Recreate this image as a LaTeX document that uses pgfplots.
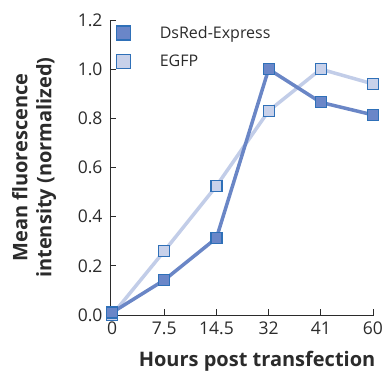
\documentclass[border=0pt]{standalone}
\usepackage{pgfplots}
\pgfplotsset{compat=1.18}
\usepackage{fontspec}
\setmainfont{Open Sans}
\definecolor{dsfill}{HTML}{6A86C8}
\definecolor{dsline}{HTML}{6A86C6}
\definecolor{egfill}{HTML}{C8D1EA}
\definecolor{egline}{HTML}{C2CDE8}
\definecolor{edge}{HTML}{2F70B8}
\definecolor{txt}{HTML}{2B2B2B}
\begin{document}
\begin{tikzpicture}
\useasboundingbox (-110pt,-58pt) rectangle (276pt,315pt);
\begin{axis}[
  at={(0,0)}, anchor=south west,
  scale only axis, width=264pt, height=295pt,
  xmin=-0.04, xmax=5.02, ymin=0, ymax=1.2,
  axis lines=left, axis line style={-, txt, line width=0.9pt},
  xtick={0,1,2,3,4,5}, xticklabels={0,7.5,14.5,32,41,60},
  ytick={0,0.2,0.4,0.6,0.8,1.0,1.2},
  yticklabel style={xshift=-4pt, /pgf/number format/fixed, /pgf/number format/fixed zerofill, /pgf/number format/precision=1},
  /pgf/number format/assume math mode=true,
  tick align=inside, major tick length=6pt, tick style={txt, line width=0.9pt},
  ticklabel style={font=\fontsize{17.5}{19}\selectfont, text=txt},
  xticklabel style={yshift=-3pt},
  xlabel={\bfseries Hours post transfection},
  ylabel={\bfseries\begin{tabular}{@{}c@{}}Mean fluorescence\\[1pt]intensity (normalized)\end{tabular}},
  label style={font=\fontsize{20}{23}\selectfont, text=txt},
  xlabel style={at={(axis description cs:0.557,-0.173)}, anchor=base, inner sep=0pt},
  ylabel style={at={(axis description cs:-0.375,0.5)}, anchor=north, inner sep=0pt},
  clip=false,
  legend style={draw=none, fill=none, at={(axis description cs:0,1)}, anchor=north west,
    yshift=-4pt, inner sep=0pt, font=\fontsize{16}{18}\selectfont, text=txt, row sep=11pt},
  legend cell align=left,
  reverse legend,
  legend image code/.code={\path (0,0) (1.55cm,0); \draw[#1, mark size=7pt] plot coordinates {(0.42cm,0cm)};},
]
\addplot[egline, line width=3.5pt, mark=square*, mark size=5.5pt, mark options={fill=egfill, draw=edge, line width=1.2pt}] coordinates {
(0,0.0) (1,0.26) (2,0.525) (3,0.83) (4,1.0) (5,0.94)};
\addlegendentry{EGFP}
\addplot[dsline, line width=3.5pt, mark=square*, mark size=5.5pt, mark options={fill=dsfill, draw=edge, line width=1.2pt}] coordinates {
(0,0.01) (1,0.142) (2,0.313) (3,1.0) (4,0.865) (5,0.814)};
\addlegendentry{DsRed-Express}
\end{axis}
\end{tikzpicture}
\end{document}
